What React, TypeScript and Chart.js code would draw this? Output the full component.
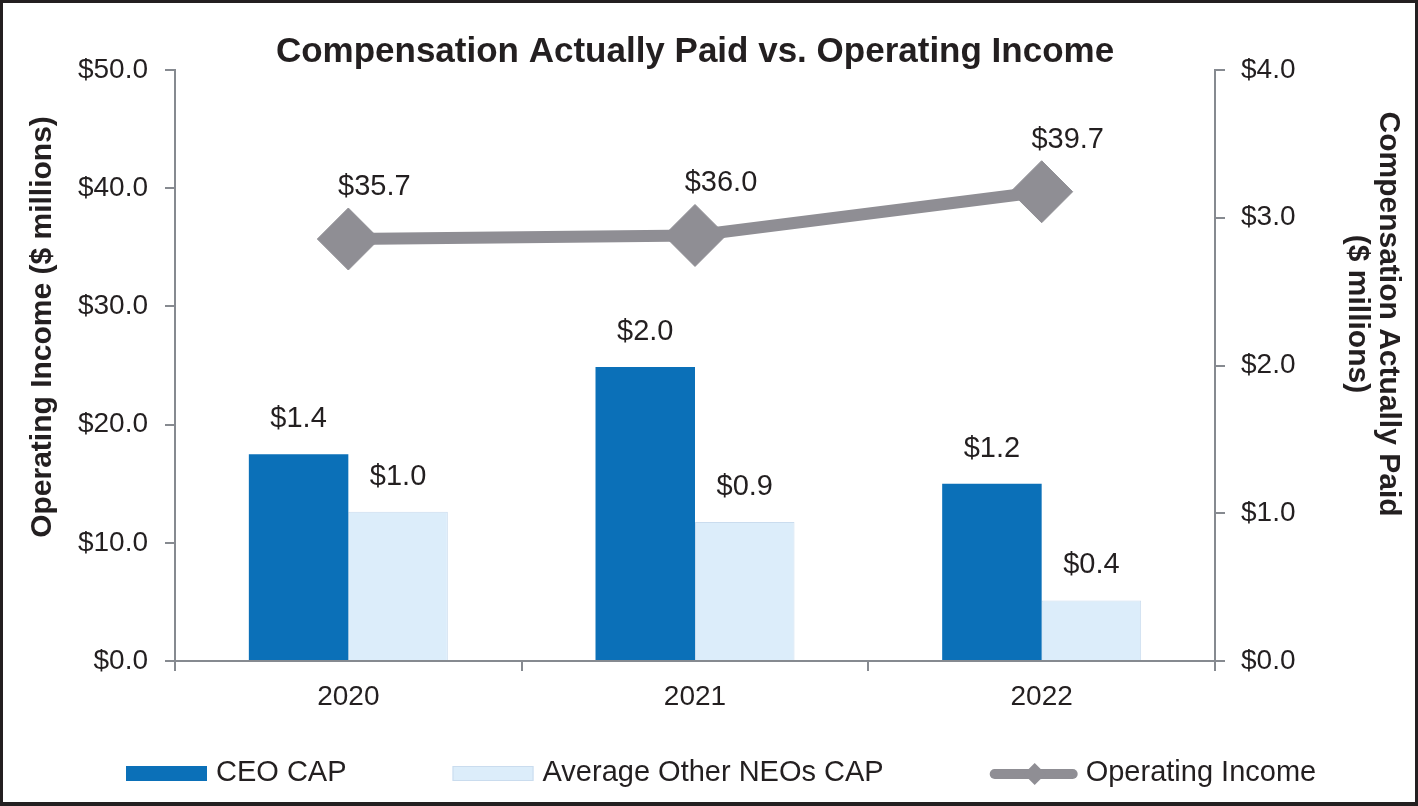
import React, { useEffect, useRef } from "react";
import { Chart, registerables } from "chart.js";

Chart.register(...registerables);

// ---- data ----
const years = ["2020", "2021", "2022"];
const ceoCap = [1.4, 1.99, 1.2];
const neoCap = [1.01, 0.94, 0.41];
const operatingIncome = [35.7, 36.0, 39.7];
const leftTicks = { min: 0, max: 50, step: 10 };
const rightTicks = { min: 0, max: 4, step: 1 };
const seriesNames = ["CEO CAP", "Average Other NEOs CAP", "Operating Income"];
const chartTitle = "Compensation Actually Paid vs. Operating Income";
const leftAxisTitle = "Operating Income ($ millions)";
const rightAxisTitle = ["Compensation Actually Paid", "($ millions)"];

// ---- style ----
const FONT = '"Liberation Sans", Arial, Helvetica, sans-serif';
const TEXT = "#231f20";
const AXIS = "#868a90";
const BLUE = "#0b70b8";
const LIGHT = "#dcedfa";
const LIGHT_BORDER = "#cadcee";
const GRAY = "#8f8e94";

const money = (v: number) => "$" + v.toFixed(1);

const valueLabels = {
  id: "valueLabels",
  afterDatasetsDraw(chart: any) {
    const ctx = chart.ctx;
    ctx.save();
    ctx.font = `29px ${FONT}`;
    ctx.fillStyle = TEXT;
    ctx.textAlign = "center";
    ctx.textBaseline = "middle";
    chart.data.datasets.forEach((ds: any, i: number) => {
      const meta = chart.getDatasetMeta(i);
      meta.data.forEach((el: any, j: number) => {
        const txt = money(ds.data[j]);
        if (meta.type === "line") ctx.fillText(txt, el.x + 26, el.y - 52);
        else ctx.fillText(txt, el.x, el.y - 35);
      });
    });
    ctx.restore();
  },
};

const axisTitles = {
  id: "axisTitles",
  afterDraw(chart: any) {
    const ctx = chart.ctx;
    const area = chart.chartArea;
    ctx.save();
    ctx.font = `bold 30px ${FONT}`;
    ctx.fillStyle = TEXT;
    ctx.textAlign = "center";
    ctx.textBaseline = "middle";
    ctx.translate(area.left - 132, 324);
    ctx.rotate(-Math.PI / 2);
    ctx.fillText(leftAxisTitle, 0, 0);
    ctx.restore();

    ctx.save();
    ctx.font = `bold 30px ${FONT}`;
    ctx.fillStyle = TEXT;
    ctx.textAlign = "center";
    ctx.textBaseline = "middle";
    ctx.translate(area.right + 173, 311);
    ctx.rotate(Math.PI / 2);
    rightAxisTitle.forEach((line, k) => ctx.fillText(line, 0, k * 31));
    ctx.restore();
  },
};

const bottomLegend = {
  id: "bottomLegend",
  afterDraw(chart: any) {
    const ctx = chart.ctx;
    const cy = 770;
    let x = 123;
    ctx.save();
    ctx.font = `29px ${FONT}`;
    ctx.textBaseline = "middle";
    ctx.textAlign = "left";
    chart.data.datasets.forEach((ds: any) => {
      if (ds.type === "line") {
        ctx.strokeStyle = ds.borderColor;
        ctx.lineWidth = 10;
        ctx.lineCap = "round";
        ctx.beginPath();
        ctx.moveTo(x + 5, cy + 1);
        ctx.lineTo(x + 83, cy + 1);
        ctx.stroke();
        ctx.fillStyle = ds.borderColor;
        ctx.beginPath();
        const dx = x + 45;
        ctx.moveTo(dx - 11, cy + 1);
        ctx.lineTo(dx, cy - 10);
        ctx.lineTo(dx + 11, cy + 1);
        ctx.lineTo(dx, cy + 12);
        ctx.closePath();
        ctx.fill();
        x += 88 + 8;
      } else {
        ctx.fillStyle = ds.backgroundColor;
        ctx.fillRect(x, cy - 7, 81, 15);
        if (ds.borderWidth) {
          ctx.strokeStyle = ds.borderColor;
          ctx.lineWidth = 1;
          ctx.strokeRect(x + 0.5, cy - 6.5, 80, 14);
        }
        x += 81 + 9;
      }
      ctx.fillStyle = TEXT;
      ctx.fillText(ds.label, x, cy);
      x += ctx.measureText(ds.label).width + 106;
    });
    ctx.restore();
  },
};

export default function App() {
  const ref = useRef<HTMLCanvasElement>(null);

  useEffect(() => {
    document.body.style.margin = "0";
    const chart = new Chart(ref.current as HTMLCanvasElement, {
      type: "bar",
      data: {
        labels: years,
        datasets: [
          {
            type: "bar",
            label: seriesNames[0],
            data: ceoCap,
            yAxisID: "y1",
            backgroundColor: BLUE,
            borderWidth: 0,
            categoryPercentage: 0.574,
            barPercentage: 1,
          },
          {
            type: "bar",
            label: seriesNames[1],
            data: neoCap,
            yAxisID: "y1",
            backgroundColor: LIGHT,
            borderColor: LIGHT_BORDER,
            borderWidth: 1,
            categoryPercentage: 0.574,
            barPercentage: 1,
          },
          {
            type: "line",
            label: seriesNames[2],
            data: operatingIncome,
            yAxisID: "y",
            borderColor: GRAY,
            backgroundColor: GRAY,
            borderWidth: 12,
            tension: 0,
            pointStyle: "rectRot",
            pointRadius: 31,
            pointBackgroundColor: GRAY,
            pointBorderColor: GRAY,
            pointBorderWidth: 1,
          },
        ] as any,
      },
      options: {
        responsive: false,
        animation: false,
        events: [],
        layout: { padding: { top: 0, left: 0, right: 0, bottom: 81 } },
        plugins: {
          legend: { display: false },
          tooltip: { enabled: false },
          title: {
            display: true,
            text: chartTitle,
            color: TEXT,
            fullSize: false,
            font: { family: FONT, size: 35, weight: "bold", lineHeight: 1 },
            padding: { top: 32, bottom: 0 },
          },
        },
        scales: {
          x: {
            type: "category",
            offset: true,
            grid: {
              display: true,
              offset: true,
              drawOnChartArea: false,
              drawTicks: true,
              tickLength: 10,
              color: AXIS,
              lineWidth: 2,
            },
            border: { display: true, color: AXIS, width: 2 },
            ticks: { color: TEXT, font: { family: FONT, size: 28 }, padding: 9 },
            afterFit(scale: any) {
              scale.height = 60;
            },
          },
          y: {
            type: "linear",
            position: "left",
            min: leftTicks.min,
            max: leftTicks.max,
            grid: {
              display: true,
              drawOnChartArea: false,
              drawTicks: true,
              tickLength: 10,
              color: AXIS,
              lineWidth: 2,
            },
            border: { display: true, color: AXIS, width: 2 },
            ticks: {
              stepSize: leftTicks.step,
              color: TEXT,
              font: { family: FONT, size: 28 },
              padding: 17,
              callback: (v: any) => money(Number(v)),
            },
            afterFit(scale: any) {
              scale.width = 172;
            },
          },
          y1: {
            type: "linear",
            position: "right",
            min: rightTicks.min,
            max: rightTicks.max,
            grid: {
              display: true,
              drawOnChartArea: false,
              drawTicks: true,
              tickLength: 10,
              color: AXIS,
              lineWidth: 2,
            },
            border: { display: true, color: AXIS, width: 2 },
            ticks: {
              stepSize: rightTicks.step,
              color: TEXT,
              font: { family: FONT, size: 28 },
              padding: 16,
              callback: (v: any) => money(Number(v)),
            },
            afterFit(scale: any) {
              scale.width = 200;
            },
          },
        },
      } as any,
      plugins: [valueLabels, axisTitles, bottomLegend],
    });
    return () => chart.destroy();
  }, []);

  return (
    <div
      style={{
        width: 1418,
        height: 806,
        boxSizing: "border-box",
        borderStyle: "solid",
        borderColor: "#231f20",
        borderWidth: "3px 3px 4px 3px",
        background: "#ffffff",
      }}
    >
      <canvas ref={ref} width={1412} height={799} style={{ display: "block" }} />
    </div>
  );
}
